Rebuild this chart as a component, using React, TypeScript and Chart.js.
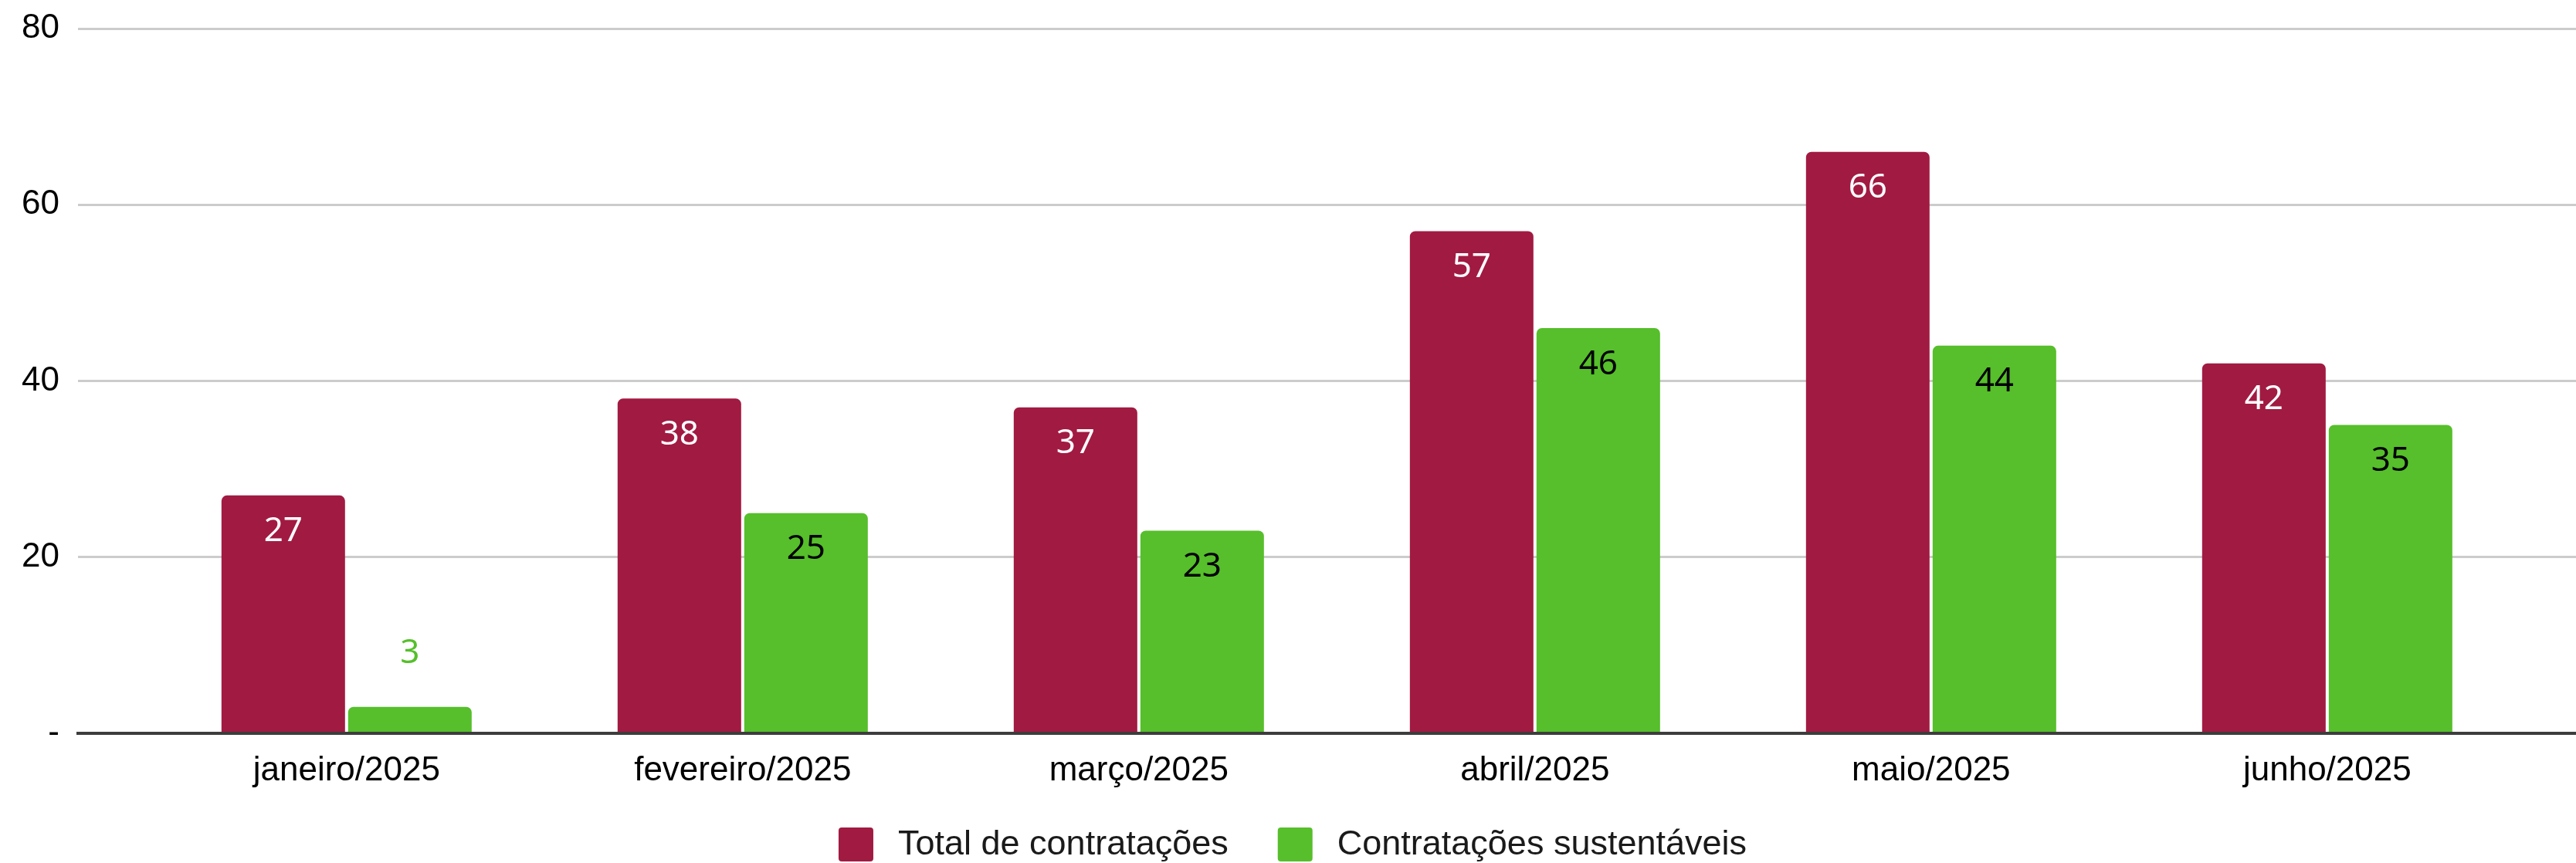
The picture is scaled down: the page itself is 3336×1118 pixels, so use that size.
import React, { useEffect, useRef } from 'react';
import { Chart, registerables } from 'chart.js';

Chart.register(...registerables);

const categories = ['janeiro/2025', 'fevereiro/2025', 'março/2025', 'abril/2025', 'maio/2025', 'junho/2025'];
const totalContratacoes = [27, 38, 37, 57, 66, 42];
const contratacoesSustentaveis = [3, 25, 23, 46, 44, 35];
const seriesNames = ['Total de contratações', 'Contratações sustentáveis'];
const seriesColors = ['#A11A42', '#56BF2B'];
const insideLabelColors = ['#FFFFFF', '#000000'];
const yMin = 0;
const yMax = 80;
const yStep = 20;

const W = 3336;
const H = 1118;

const dataLabelPlugin = {
  id: 'dataLabels',
  afterDatasetsDraw(chart: any) {
    const ctx = chart.ctx;
    ctx.save();
    ctx.font = '44px "Noto Sans"';
    ctx.textAlign = 'center';
    ctx.textBaseline = 'middle';
    chart.data.datasets.forEach((ds: any, di: number) => {
      const meta = chart.getDatasetMeta(di);
      meta.data.forEach((bar: any, i: number) => {
        const p = bar.getProps(['x', 'y', 'base'], true);
        const h = p.base - p.y;
        const v = ds.data[i].y;
        let ty: number;
        if (h > 100) {
          ctx.fillStyle = insideLabelColors[di];
          ty = p.y + 47;
        } else {
          ctx.fillStyle = seriesColors[di];
          ty = p.y - 69;
        }
        ctx.fillText(String(v), p.x, ty);
      });
    });
    ctx.restore();
  },
};

const legendPlugin = {
  id: 'customLegend',
  afterDraw(chart: any) {
    const ctx = chart.ctx;
    ctx.save();
    ctx.font = '45px "Liberation Sans", Arial, sans-serif';
    const boxW = 45;
    const boxH = 44;
    const boxGap = 32;
    const itemGap = 64;
    const widths = seriesNames.map((n) => ctx.measureText(n).width);
    const total = widths.reduce((a, w) => a + boxW + boxGap + w, 0) + itemGap * (seriesNames.length - 1);
    let x = (chart.width - total) / 2 + 6;
    const cy = 1094;
    seriesNames.forEach((name, i) => {
      ctx.fillStyle = seriesColors[i];
      ctx.beginPath();
      (ctx as any).roundRect(x, cy - boxH / 2, boxW, boxH, 4);
      ctx.fill();
      ctx.fillStyle = '#1a1a1a';
      ctx.textAlign = 'left';
      ctx.textBaseline = 'middle';
      ctx.fillText(name, x + boxW + boxGap, cy + 1);
      x += boxW + boxGap + widths[i] + itemGap;
    });
    ctx.restore();
  },
};

export default function App() {
  const canvasRef = useRef<HTMLCanvasElement | null>(null);

  useEffect(() => {
    document.body.style.margin = '0';
    const canvas = canvasRef.current;
    if (!canvas) return;
    const chart = new Chart(canvas, {
      type: 'bar',
      data: {
        datasets: [
          {
            label: seriesNames[0],
            data: totalContratacoes.map((v, i) => ({ x: i, y: v })),
            backgroundColor: seriesColors[0],
            borderRadius: { topLeft: 7, topRight: 7, bottomLeft: 0, bottomRight: 0 },
            borderSkipped: 'start',
            categoryPercentage: 0.6394,
            barPercentage: 0.9756,
          },
          {
            label: seriesNames[1],
            data: contratacoesSustentaveis.map((v, i) => ({ x: i, y: v })),
            backgroundColor: seriesColors[1],
            borderRadius: { topLeft: 7, topRight: 7, bottomLeft: 0, bottomRight: 0 },
            borderSkipped: 'start',
            categoryPercentage: 0.6394,
            barPercentage: 0.9756,
          },
        ],
      },
      options: {
        animation: false,
        responsive: true,
        maintainAspectRatio: false,
        devicePixelRatio: 1,
        events: [],
        layout: { padding: { top: 37, left: 0, right: 0, bottom: 0 } },
        plugins: {
          legend: { display: false },
          tooltip: { enabled: false },
        },
        scales: {
          x: {
            type: 'linear',
            offset: false,
            min: -0.678,
            max: 5.628,
            z: 1,
            afterBuildTicks: (scale: any) => {
              scale.ticks = categories.map((_, i) => ({ value: i }));
            },
            afterFit: (scale: any) => {
              scale.height = 168;
              scale.paddingLeft = 0;
              scale.paddingRight = 0;
            },
            grid: { display: false, drawTicks: false },
            border: { display: true, color: '#3d3d3d', width: 4 },
            ticks: {
              autoSkip: false,
              maxRotation: 0,
              padding: 22,
              color: '#000000',
              font: { family: '"Liberation Sans", Arial, sans-serif', size: 44 },
              callback: (value: any) => categories[Math.round(Number(value))] ?? '',
            },
          },
          y: {
            min: yMin,
            max: yMax,
            afterFit: (scale: any) => {
              scale.width = 101;
              scale.paddingTop = 0;
              scale.paddingBottom = 0;
            },
            border: { display: false },
            grid: {
              drawTicks: false,
              color: (c: any) => (c.tick && c.tick.value === 0 ? '#3d3d3d' : '#cccccc'),
              lineWidth: (c: any) => (c.tick && c.tick.value === 0 ? 4 : 3),
            },
            ticks: {
              stepSize: yStep,
              padding: 24,
              color: '#000000',
              font: { family: '"Liberation Sans", Arial, sans-serif', size: 44 },
              callback: (value: any) => (Number(value) === 0 ? '-' : String(value)),
            },
          },
        },
      } as any,
      plugins: [dataLabelPlugin, legendPlugin],
    });
    return () => chart.destroy();
  }, []);

  return (
    <div style={{ position: 'relative', width: W, height: H }}>
      <canvas ref={canvasRef} />
    </div>
  );
}
